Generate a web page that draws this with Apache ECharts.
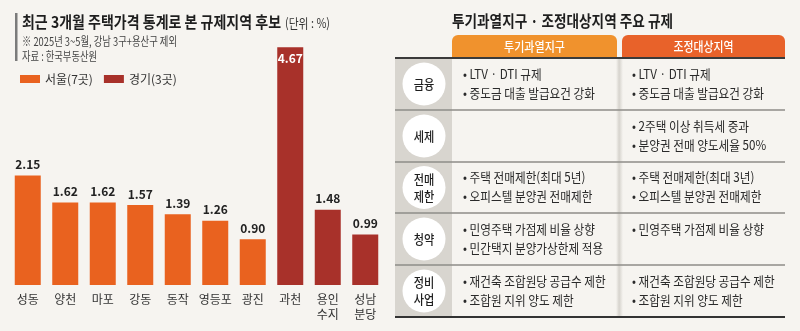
<!DOCTYPE html>
<html><head><meta charset="utf-8">
<script src="https://cdn.jsdelivr.net/npm/echarts/dist/echarts.min.js"></script>
<style>html,body{margin:0;padding:0;background:#f6f4f0}#c{width:800px;height:331px}</style>
</head><body><div id="c"></div>
<script>
const categories = ['성동','양천','마포','강동','동작','영등포','광진','과천','용인\n수지','성남\n분당'];
const seoulValues = [2.15, 1.62, 1.62, 1.57, 1.39, 1.26, 0.90];
const gyeonggiValues = [4.67, 1.48, 0.99];
const legendNames = ['서울(7곳)', '경기(3곳)'];
const leftTitle = '최근 3개월 주택가격 통계로 본 규제지역 후보';
const leftUnit = '(단위 : %)';
const leftNote = '※ 2025년 3~5월, 강남 3구+용산구 제외';
const leftSource = '자료 : 한국부동산원';
const rightTitle = '투기과열지구 · 조정대상지역 주요 규제';
const tableColumns = ['투기과열지구', '조정대상지역'];
const rowLabels = ['금융', '세제', '전매\n제한', '청약', '정비\n사업'];
const colA = [
  ['LTV · DTI 규제', '중도금 대출 발급요건 강화'],
  [],
  ['주택 전매제한(최대 5년)', '오피스텔 분양권 전매제한'],
  ['민영주택 가점제 비율 상향', '민간택지 분양가상한제 적용'],
  ['재건축 조합원당 공급수 제한', '조합원 지위 양도 제한']
];
const colB = [
  ['LTV · DTI 규제', '중도금 대출 발급요건 강화'],
  ['2주택 이상 취득세 중과', '분양권 전매 양도세율 50%'],
  ['주택 전매제한(최대 3년)', '오피스텔 분양권 전매제한'],
  ['민영주택 가점제 비율 상향'],
  ['재건축 조합원당 공급수 제한', '조합원 지위 양도 제한']
];

const FF = '"Noto Sans CJK KR", "Noto Sans", sans-serif';
const ORANGE = '#e9621f', DARKRED = '#a8312a';
const mctx = document.createElement('canvas').getContext('2d');
function measure(text, size, weight) { mctx.font = weight + ' ' + size + 'px ' + FF; return mctx.measureText(text).width; }
function txt(x, y, text, o) {
  o = o || {};
  const size = o.size || 12, weight = o.weight || 'normal';
  let sx = o.scale || 1;
  if (o.fit) sx = o.fit / measure(text, size, weight);
  const align = o.align || 'left';
  return { type: 'text', x: x, y: y, scaleX: sx, scaleY: 1, silent: true, z: 10,
    style: { text: text, x: 0, y: 0, fill: o.color || '#222', fontSize: size, fontWeight: weight, fontFamily: FF,
      textAlign: align, align: align, textVerticalAlign: 'middle', verticalAlign: 'middle', lineHeight: o.lineHeight } };
}

const seoulData = categories.map((c, i) => i < seoulValues.length ? seoulValues[i] : '-');
const gyeonggiData = categories.map((c, i) => {
  const j = i - seoulValues.length;
  if (j < 0) return '-';
  if (j === 0) return { value: gyeonggiValues[j], label: { position: 'insideTop', color: '#fff', distance: 5 } };
  return gyeonggiValues[j];
});

const g = [];
g.push({ type: 'rect', shape: { x: 15, y: 13, width: 2.5, height: 48 }, style: { fill: '#7b7b7b' }, silent: true });
g.push(txt(22, 22, leftTitle, { size: 16, weight: 'bold', fit: 259, color: '#1e1e1e' }));
g.push(txt(285, 23, leftUnit, { size: 13, fit: 45, color: '#333' }));
g.push(txt(22, 41, leftNote, { size: 12, fit: 155, color: '#444' }));
g.push(txt(22, 56, leftSource, { size: 12, fit: 75, color: '#444' }));

const TX0 = 395, TX1 = 785, C1 = 452, C2 = 617, C2b = 622;
const rowY = [58, 110, 162, 213, 265, 317];
g.push(txt(452, 21, rightTitle, { size: 16, weight: 'bold', fit: 221, color: '#1e1e1e' }));
g.push({ type: 'rect', shape: { x: C1, y: 35, width: C2 - C1, height: 23, r: [6, 6, 0, 0] }, style: { fill: '#f0922d' }, silent: true });
g.push({ type: 'rect', shape: { x: C2b, y: 35, width: TX1 - C2b, height: 23, r: [6, 6, 0, 0] }, style: { fill: '#e8622a' }, silent: true });
g.push(txt((C1 + C2) / 2, 46.5, tableColumns[0], { size: 13, weight: 500, fit: 61, color: '#fff', align: 'center' }));
g.push(txt((C2b + TX1) / 2, 46.5, tableColumns[1], { size: 13, weight: 500, fit: 60, color: '#fff', align: 'center' }));
g.push({ type: 'rect', shape: { x: TX0, y: 58, width: C1 - TX0, height: 259 }, style: { fill: '#d8d5cf' }, silent: true });
g.push({ type: 'rect', shape: { x: C2 - 1, y: 58, width: 7, height: 259 }, silent: true,
  style: { fill: { type: 'linear', x: 0, y: 0, x2: 1, y2: 0, colorStops: [
    { offset: 0, color: '#f6f4f0' }, { offset: 0.45, color: '#d6d3cd' }, { offset: 1, color: '#f6f4f0' }] } } });
for (let i = 1; i < rowY.length - 1; i++) {
  g.push({ type: 'line', shape: { x1: TX0, y1: rowY[i], x2: TX1, y2: rowY[i] }, style: { stroke: '#8e8c89', lineWidth: 1.5 }, silent: true });
}
g.push({ type: 'line', shape: { x1: TX0, y1: 58, x2: TX1, y2: 58 }, style: { stroke: '#3a3a3a', lineWidth: 2 }, silent: true });
g.push({ type: 'line', shape: { x1: TX0, y1: 317, x2: TX1, y2: 317 }, style: { stroke: '#333', lineWidth: 2 }, silent: true });
const bulletScale = 132 / measure('• 중도금 대출 발급요건 강화', 13, 'normal');
for (let r = 0; r < rowLabels.length; r++) {
  const cy = (rowY[r] + rowY[r + 1]) / 2;
  g.push({ type: 'circle', shape: { cx: 424, cy: cy, r: 21.5 }, style: { fill: '#ffffff' }, silent: true });
  g.push(txt(424, cy, rowLabels[r], { size: 13, weight: 500, scale: 0.86, color: '#1e1e1e', align: 'center', lineHeight: 17 }));
  colA[r].forEach((t, k) => g.push(txt(463, cy - 10 + k * 19, '• ' + t, { size: 13, scale: bulletScale, color: '#2a2a2a' })));
  colB[r].forEach((t, k) => g.push(txt(632, cy - 10 + k * 19, '• ' + t, { size: 13, scale: bulletScale, color: '#2a2a2a' })));
}

const chart = echarts.init(document.getElementById('c'), null, { renderer: 'canvas' });
const valueLabel = {
  show: true, position: 'top', distance: 5, fontFamily: FF, fontWeight: 'bold', fontSize: 12, color: '#222',
  formatter: p => Number(p.value).toFixed(2)
};
chart.setOption({
  backgroundColor: '#f6f4f0',
  animation: false,
  textStyle: { fontFamily: FF },
  legend: {
    data: legendNames, left: 15, top: 68, icon: 'rect', itemWidth: 20, itemHeight: 8, itemGap: 11,
    textStyle: { fontSize: 12, color: '#333', fontFamily: FF }
  },
  grid: { left: 9, top: 30.5, width: 375, height: 254.5, containLabel: false },
  xAxis: {
    type: 'category', data: categories,
    axisTick: { show: false }, axisLine: { show: false },
    axisLabel: { fontSize: 12, color: '#333', lineHeight: 15, margin: 7, interval: 0, fontFamily: FF }
  },
  yAxis: { type: 'value', min: 0, max: 5, show: false, splitLine: { show: false } },
  series: [
    { name: legendNames[0], type: 'bar', data: seoulData, barWidth: 26, barGap: '-100%',
      itemStyle: { color: ORANGE }, label: valueLabel },
    { name: legendNames[1], type: 'bar', data: gyeonggiData, barWidth: 26, barGap: '-100%',
      itemStyle: { color: DARKRED }, label: valueLabel }
  ],
  graphic: { elements: g }
});
</script></body></html>
